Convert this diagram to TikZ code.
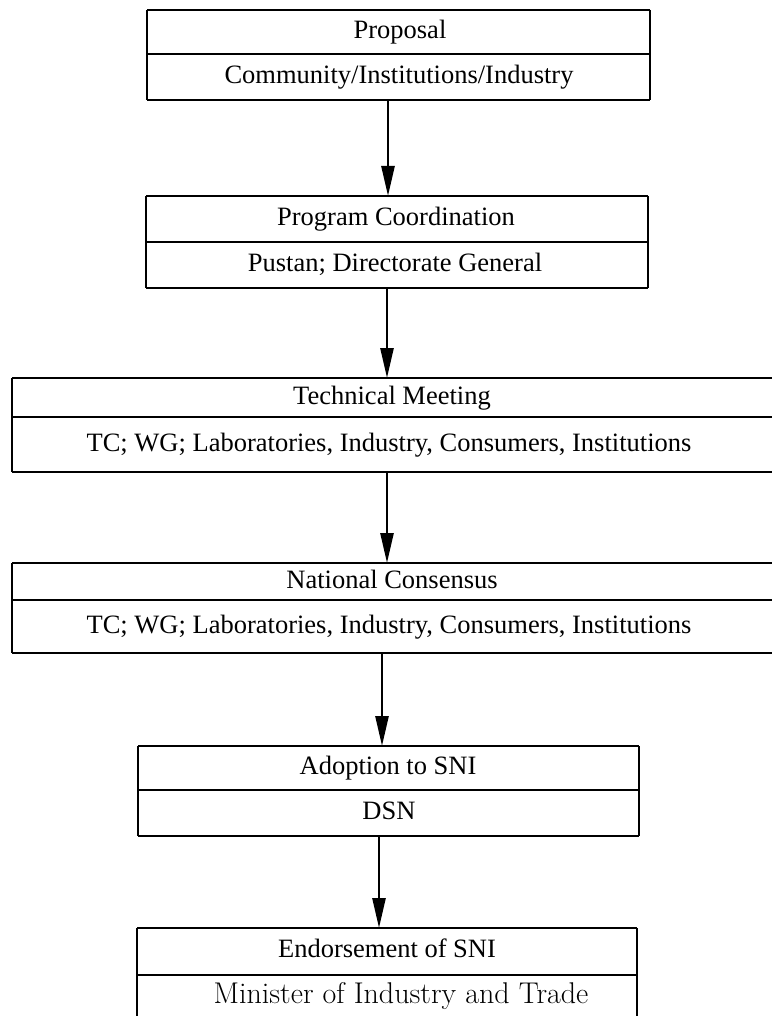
\documentclass[tikz,border=0pt]{standalone}
\usepackage{fontspec}
\setmainfont{Liberation Serif}
\newfontfamily\lmfont{Latin Modern Roman}
\usetikzlibrary{arrows.meta}
\begin{document}
\begin{tikzpicture}[x=1pt,y=-1pt,
  hline/.style={draw, line width=1.4pt},
  vline/.style={draw, line width=2.6pt},
  lbl/.style={inner sep=0pt, text height=18pt, text depth=5pt,
    font=\fontsize{26.5}{30}\selectfont},
  flow/.style={draw, line width=2.6pt,
    -{Triangle[length=30pt,width=13pt]}}]
\useasboundingbox (0,0) rectangle (771,1016);
% --- Proposal ---
\draw[hline] (147,10) -- (650,10) (147,54) -- (650,54) (147,100) -- (650,100);
\draw[vline] (147,10) -- (147,100) (650,10) -- (650,100);
\node[lbl] (p1) at (400,32) {Proposal};
\node[lbl] (p2) at (399,77) {Community/Institutions/Industry};
\coordinate (p1b) at (388,100);
% --- Program Coordination ---
\draw[hline] (146,196) -- (648,196) (146,242) -- (648,242) (146,288) -- (648,288);
\draw[vline] (146,196) -- (146,288) (648,196) -- (648,288);
\node[lbl] (c1) at (396,219) {Program Coordination};
\node[lbl] (c2) at (395,265) {Pustan; Directorate General};
\coordinate (c1t) at (388,196);
\coordinate (c1b) at (387,288);
% --- Technical Meeting ---
\draw[hline] (12,378) -- (780,378) (12,417) -- (780,417) (12,472) -- (780,472);
\draw[vline] (12,378) -- (12,472);
\node[lbl] (t1) at (392,398) {Technical Meeting};
\node[lbl] (t2) at (389,445) {TC; WG; Laboratories, Industry, Consumers, Institutions};
\coordinate (t1t) at (387,378);
\coordinate (t1b) at (387,472);
% --- National Consensus ---
\draw[hline] (12,563) -- (780,563) (12,600) -- (780,600) (12,653) -- (780,653);
\draw[vline] (12,563) -- (12,653);
\node[lbl] (n1) at (392,582) {National Consensus};
\node[lbl] (n2) at (389,627) {TC; WG; Laboratories, Industry, Consumers, Institutions};
\coordinate (n1t) at (387,563);
\coordinate (n1b) at (382,653);
% --- Adoption to SNI ---
\draw[hline] (138,746) -- (639,746) (138,790) -- (639,790) (138,836) -- (639,836);
\draw[vline] (138,746) -- (138,836) (639,746) -- (639,836);
\node[lbl] (a1) at (388,768) {Adoption to SNI};
\node[lbl] (a2) at (389,813) {DSN};
\coordinate (a1t) at (382,746);
\coordinate (a1b) at (379,836);
% --- Endorsement of SNI ---
\draw[hline] (137,928) -- (637,928) (137,975) -- (637,975);
\draw[vline] (137,928) -- (137,1025) (637,928) -- (637,1025);
\node[lbl] (e1) at (387,951) {Endorsement of SNI};
\node[inner sep=0pt, text height=20pt, text depth=6pt,
  font=\lmfont\fontsize{30}{34}\selectfont] (e2) at (401,996) {Minister of Industry and Trade};
\coordinate (e1t) at (379,928);
% --- flow arrows ---
\draw[flow] (p1b) -- (c1t);
\draw[flow] (c1b) -- (t1t);
\draw[flow] (t1b) -- (n1t);
\draw[flow] (n1b) -- (a1t);
\draw[flow] (a1b) -- (e1t);
\end{tikzpicture}
\end{document}
